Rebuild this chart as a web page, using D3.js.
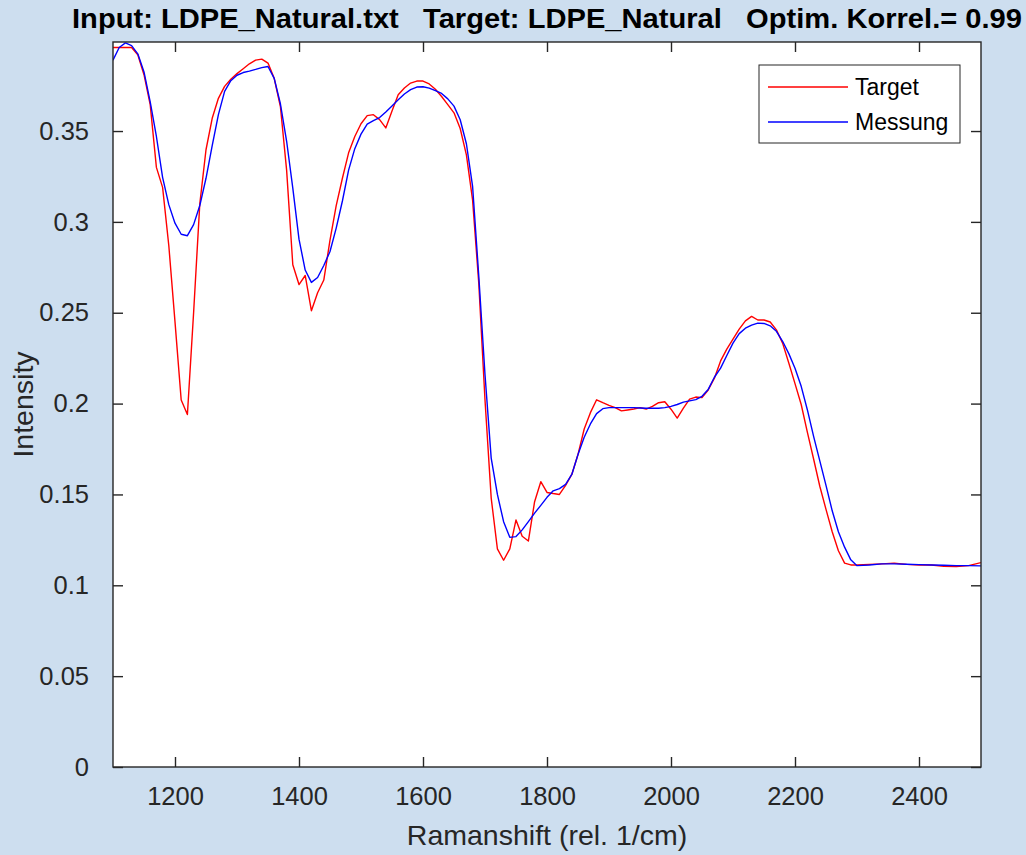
<!DOCTYPE html>
<html>
<head>
<meta charset="utf-8">
<script src="https://cdn.jsdelivr.net/npm/d3@7"></script>
<style>
	body { margin: 0; background: #cddeef; }
	svg { display: block; font-family: Arial, 'Liberation Sans', sans-serif; }
</style>
</head>
<body>
<script>

// ramanshift values (rel. 1/cm)
var shift = [1100,1110,1120,1130,1140,1150,1160,1170,1180,1190,
	1200,1210,1220,1230,1240,1250,1260,1270,1280,1290,
	1300,1310,1320,1330,1340,1350,1360,1370,1380,1390,
	1400,1410,1420,1430,1440,1450,1460,1470,1480,1490,
	1500,1510,1520,1530,1540,1550,1560,1570,1580,1590,
	1600,1610,1620,1630,1640,1650,1660,1670,1680,1690,
	1700,1710,1720,1730,1740,1750,1760,1770,1780,1790,
	1800,1810,1820,1830,1840,1850,1860,1870,1880,1890,
	1900,1910,1920,1930,1940,1950,1960,1970,1980,1990,
	2000,2010,2020,2030,2040,2050,2060,2070,2080,2090,
	2100,2110,2120,2130,2140,2150,2160,2170,2180,2190,
	2200,2210,2220,2230,2240,2250,2260,2270,2280,2290,
	2300,2320,2340,2360,2380,2400,2420,2440,2460,2480,2500];

var target = [.396,.396,.396,.396,.392,.381,.3645,.330,.319,.287,
	.245,.202,.194,.250,.310,.3397,.357,.368,.3746,.3785,
	.3816,.3843,.387,.389,.3896,.3874,.379,.3635,.3286,.2764,
	.2655,.2705,.2511,.261,.268,.290,.309,.324,.338,.347,
	.354,.3585,.359,.3563,.3517,.361,.370,.3737,.3764,.3775,
	.3775,.3759,.373,.369,.3645,.360,.3514,.3369,.312,.266,
	.202,.148,.120,.1138,.120,.136,.127,.1244,.146,.157,
	.1511,.1505,.150,.155,.161,.172,.186,.195,.2021,.2005,
	.199,.1978,.196,.1965,.197,.1978,.197,.1985,.2005,.201,
	.1969,.192,.1975,.2025,.2036,.2033,.2075,.214,.2235,.230,
	.2355,.241,.2455,.248,.246,.246,.2449,.2406,.2333,.2223,
	.211,.1995,.1842,.1695,.1545,.1418,.1295,.119,.1122,.1112,
	.1112,.1115,.1118,.1122,.1115,.1112,.1112,.1105,.1103,.1108,.1125];

var messung = [.389,.396,.3985,.397,.3925,.3825,.366,.347,.3245,.3095,
	.2993,.2932,.2924,.2985,.309,.324,.342,.359,.3718,.3777,
	.3807,.3822,.383,.3839,.3849,.3855,.379,.365,.3445,.3186,
	.2905,.2735,.2667,.2694,.276,.2837,.2966,.3115,.3285,.3403,
	.3483,.3538,.3557,.3574,.3605,.3638,.3672,.3704,.3728,.3742,
	.3744,.3736,.3722,.3707,.3677,.3637,.3562,.343,.3195,.270,
	.216,.170,.150,.135,.1264,.1268,.1305,.135,.1397,.144,
	.1484,.152,.1532,.1555,.161,.172,.1815,.1888,.1945,.1972,
	.1978,.1978,.1978,.1978,.1978,.1976,.1974,.1974,.1974,.1978,
	.1985,.1995,.2008,.2015,.2022,.204,.2078,.2145,.2195,.2265,
	.2333,.2385,.2415,.2432,.2443,.2441,.2428,.2398,.2343,.2275,
	.2195,.2095,.1965,.182,.1685,.155,.141,.1295,.121,.114,
	.1108,.1112,.1118,.1118,.1116,.1114,.1112,.111,.1108,.1108,.1107];

var xTicks = [1200,1400,1600,1800,2000,2200,2400];
var yTicks = [0,0.05,0.1,0.15,0.2,0.25,0.3,0.35];
var yTickLabels = ['0','0.05','0.1','0.15','0.2','0.25','0.3','0.35'];

var seriesNames = ['Target','Messung'];
var seriesColors = ['#ff0000','#0000ff'];

var width 	= 1026;
var height 	= 855;
var plotLeft = 113, plotRight = 981, plotTop = 42, plotBottom = 767;
var axisColor = '#262626';

var xScale = d3.scaleLinear()
	.domain([1100, 2500])
	.range([plotLeft, plotRight])

var yScale = d3.scaleLinear()
	.domain([0, 0.399])
	.range([plotBottom, plotTop])

var svg = d3.select('body').append('svg')
	.attr('width', width)
	.attr('height', height)

svg.append('rect')
	.attr('x', plotLeft).attr('y', plotTop)
	.attr('width', plotRight - plotLeft).attr('height', plotBottom - plotTop)
	.style('fill', 'white')

svg.append('clipPath').attr('id', 'plotclip')
	.append('rect')
	.attr('x', plotLeft).attr('y', plotTop)
	.attr('width', plotRight - plotLeft).attr('height', plotBottom - plotTop)

// bottom + top axes, ticks pointing inward
svg.append('g')
	.attr('transform', 'translate(0,' + plotBottom + ')')
	.call(d3.axisBottom(xScale).tickValues(xTicks).tickSize(-10).tickPadding(20).tickFormat(d3.format('d')))
svg.append('g')
	.attr('transform', 'translate(0,' + plotTop + ')')
	.call(d3.axisTop(xScale).tickValues(xTicks).tickSize(-10).tickFormat(''))

svg.append('g')
	.attr('transform', 'translate(' + plotLeft + ',0)')
	.call(d3.axisLeft(yScale).tickValues(yTicks).tickSize(-10).tickPadding(24)
		.tickFormat(function(d, i) { return yTickLabels[i]; }))
svg.append('g')
	.attr('transform', 'translate(' + plotRight + ',0)')
	.call(d3.axisRight(yScale).tickValues(yTicks).tickSize(-10).tickFormat(''))

svg.selectAll('.domain').remove()
svg.selectAll('.tick line')
	.style('stroke', axisColor)
	.style('stroke-width', 1.4)
svg.selectAll('.tick text')
	.style('fill', axisColor)
	.style('font-size', '25.5px')
	.style('font-family', 'Arial, "Liberation Sans", sans-serif')

var seriesData = [target, messung];

var line = d3.line()
	.x(function(d, i) { return xScale(shift[i]); })
	.y(function(d) { return yScale(d); })

svg.append('g')
	.attr('clip-path', 'url(#plotclip)')
	.selectAll('path')
	.data(seriesData)
	.enter().append('path')
		.attr('d', line)
		.style('fill', 'none')
		.style('stroke', function(d, i) { return seriesColors[i]; })
		.style('stroke-width', 1.4)
		.style('stroke-linejoin', 'round')

// axes box
svg.append('rect')
	.attr('x', plotLeft).attr('y', plotTop)
	.attr('width', plotRight - plotLeft).attr('height', plotBottom - plotTop)
	.style('fill', 'none')
	.style('stroke', axisColor)
	.style('stroke-width', 1.4)

svg.append('text')
	.attr('x', (plotLeft + plotRight) / 2)
	.attr('y', 28)
	.attr('text-anchor', 'middle')
	.attr('textLength', 950)
	.attr('lengthAdjust', 'spacingAndGlyphs')
	.style('font-size', '28.5px')
	.style('font-weight', 'bold')
	.style('fill', '#000')
	.style('white-space', 'pre')
	.text('Input: LDPE_Natural.txt   Target: LDPE_Natural   Optim. Korrel.= 0.99')

svg.append('text')
	.attr('x', (plotLeft + plotRight) / 2)
	.attr('y', 845)
	.attr('text-anchor', 'middle')
	.style('font-size', '28.5px')
	.style('fill', axisColor)
	.text('Ramanshift (rel. 1/cm)')

svg.append('text')
	.attr('transform', 'translate(33,' + ((plotTop + plotBottom) / 2) + ') rotate(-90)')
	.attr('text-anchor', 'middle')
	.style('font-size', '28.5px')
	.style('fill', axisColor)
	.text('Intensity')

// legend
var legend = svg.append('g')
legend.append('rect')
	.attr('x', 759).attr('y', 65)
	.attr('width', 201).attr('height', 78)
	.style('fill', 'white')
	.style('stroke', axisColor)
	.style('stroke-width', 1)

legend.selectAll('line')
	.data(seriesNames)
	.enter().append('line')
		.attr('x1', 768).attr('x2', 848)
		.attr('y1', function(d, i) { return 87 + i * 35; })
		.attr('y2', function(d, i) { return 87 + i * 35; })
		.style('stroke', function(d, i) { return seriesColors[i]; })
		.style('stroke-width', 1.4)

legend.selectAll('text')
	.data(seriesNames)
	.enter().append('text')
		.attr('x', 855)
		.attr('y', function(d, i) { return 87 + i * 35; })
		.attr('dy', '0.35em')
		.style('font-size', '23px')
		.style('fill', '#000')
		.text(function(d) { return d; })

</script>
</body>
</html>
